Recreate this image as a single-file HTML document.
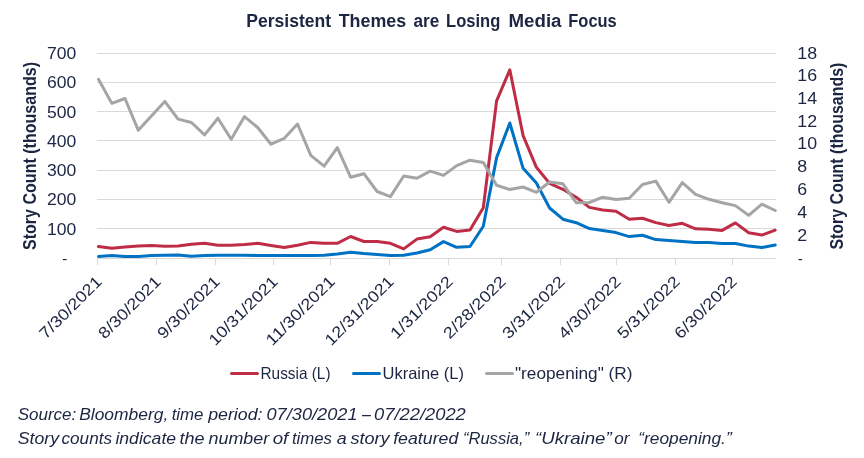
<!DOCTYPE html>
<html><head><meta charset="utf-8"><style>
html,body{margin:0;padding:0;background:#fff;}
svg{display:block;will-change:transform;}
text{font-family:"Liberation Sans",sans-serif;fill:#1c2541;}
</style></head><body>
<svg width="864" height="458" viewBox="0 0 864 458">
<rect width="864" height="458" fill="#fff"/>
<text x="246.3" y="26.7" font-size="17.6" font-weight="bold" textLength="84.8" lengthAdjust="spacingAndGlyphs">Persistent</text>
<text x="338.7" y="26.7" font-size="17.6" font-weight="bold" textLength="67.5" lengthAdjust="spacingAndGlyphs">Themes</text>
<text x="413.6" y="26.7" font-size="17.6" font-weight="bold" textLength="25.7" lengthAdjust="spacingAndGlyphs">are</text>
<text x="446.1" y="26.7" font-size="17.6" font-weight="bold" textLength="54.2" lengthAdjust="spacingAndGlyphs">Losing</text>
<text x="508.5" y="26.7" font-size="17.6" font-weight="bold" textLength="53.0" lengthAdjust="spacingAndGlyphs">Media</text>
<text x="568.3" y="26.7" font-size="17.6" font-weight="bold" textLength="48.4" lengthAdjust="spacingAndGlyphs">Focus</text>
<line x1="97" y1="53.5" x2="776" y2="53.5" stroke="#d9d9d9" stroke-width="1"/>
<line x1="97" y1="82.5" x2="776" y2="82.5" stroke="#d9d9d9" stroke-width="1"/>
<line x1="97" y1="111.5" x2="776" y2="111.5" stroke="#d9d9d9" stroke-width="1"/>
<line x1="97" y1="140.5" x2="776" y2="140.5" stroke="#d9d9d9" stroke-width="1"/>
<line x1="97" y1="170.5" x2="776" y2="170.5" stroke="#d9d9d9" stroke-width="1"/>
<line x1="97" y1="199.5" x2="776" y2="199.5" stroke="#d9d9d9" stroke-width="1"/>
<line x1="97" y1="228.5" x2="776" y2="228.5" stroke="#d9d9d9" stroke-width="1"/>
<line x1="97" y1="258.5" x2="776" y2="258.5" stroke="#d9d9d9" stroke-width="1"/>
<line x1="97.5" y1="258" x2="97.5" y2="265" stroke="#d9d9d9" stroke-width="1"/>
<text transform="translate(98.5,279.0) rotate(-45)" x="0.5" y="5.7" font-size="16" text-anchor="end" textLength="80.7" lengthAdjust="spacingAndGlyphs">7/30/2021</text>
<line x1="156.5" y1="258" x2="156.5" y2="265" stroke="#d9d9d9" stroke-width="1"/>
<text transform="translate(157.5,279.0) rotate(-45)" x="0.5" y="5.7" font-size="16" text-anchor="end" textLength="80.7" lengthAdjust="spacingAndGlyphs">8/30/2021</text>
<line x1="215.5" y1="258" x2="215.5" y2="265" stroke="#d9d9d9" stroke-width="1"/>
<text transform="translate(216.5,279.0) rotate(-45)" x="0.5" y="5.7" font-size="16" text-anchor="end" textLength="80.7" lengthAdjust="spacingAndGlyphs">9/30/2021</text>
<line x1="273.5" y1="258" x2="273.5" y2="265" stroke="#d9d9d9" stroke-width="1"/>
<text transform="translate(274.5,279.0) rotate(-45)" x="0.5" y="5.7" font-size="16" text-anchor="end" textLength="90.1" lengthAdjust="spacingAndGlyphs">10/31/2021</text>
<line x1="330.5" y1="258" x2="330.5" y2="265" stroke="#d9d9d9" stroke-width="1"/>
<text transform="translate(331.5,279.0) rotate(-45)" x="0.5" y="5.7" font-size="16" text-anchor="end" textLength="90.1" lengthAdjust="spacingAndGlyphs">11/30/2021</text>
<line x1="389.5" y1="258" x2="389.5" y2="265" stroke="#d9d9d9" stroke-width="1"/>
<text transform="translate(390.5,279.0) rotate(-45)" x="0.5" y="5.7" font-size="16" text-anchor="end" textLength="90.1" lengthAdjust="spacingAndGlyphs">12/31/2021</text>
<line x1="448.5" y1="258" x2="448.5" y2="265" stroke="#d9d9d9" stroke-width="1"/>
<text transform="translate(449.5,279.0) rotate(-45)" x="0.5" y="5.7" font-size="16" text-anchor="end" textLength="80.7" lengthAdjust="spacingAndGlyphs">1/31/2022</text>
<line x1="501.5" y1="258" x2="501.5" y2="265" stroke="#d9d9d9" stroke-width="1"/>
<text transform="translate(502.5,279.0) rotate(-45)" x="0.5" y="5.7" font-size="16" text-anchor="end" textLength="80.7" lengthAdjust="spacingAndGlyphs">2/28/2022</text>
<line x1="560.5" y1="258" x2="560.5" y2="265" stroke="#d9d9d9" stroke-width="1"/>
<text transform="translate(561.5,279.0) rotate(-45)" x="0.5" y="5.7" font-size="16" text-anchor="end" textLength="80.7" lengthAdjust="spacingAndGlyphs">3/31/2022</text>
<line x1="616.5" y1="258" x2="616.5" y2="265" stroke="#d9d9d9" stroke-width="1"/>
<text transform="translate(617.5,279.0) rotate(-45)" x="0.5" y="5.7" font-size="16" text-anchor="end" textLength="80.7" lengthAdjust="spacingAndGlyphs">4/30/2022</text>
<line x1="675.5" y1="258" x2="675.5" y2="265" stroke="#d9d9d9" stroke-width="1"/>
<text transform="translate(676.5,279.0) rotate(-45)" x="0.5" y="5.7" font-size="16" text-anchor="end" textLength="80.7" lengthAdjust="spacingAndGlyphs">5/31/2022</text>
<line x1="732.5" y1="258" x2="732.5" y2="265" stroke="#d9d9d9" stroke-width="1"/>
<text transform="translate(733.5,279.0) rotate(-45)" x="0.5" y="5.7" font-size="16" text-anchor="end" textLength="80.7" lengthAdjust="spacingAndGlyphs">6/30/2022</text>
<text x="67.5" y="263.5" font-size="15.4" text-anchor="end">-</text>
<text x="76.4" y="234.6" font-size="16.4" text-anchor="end" textLength="29.3" lengthAdjust="spacingAndGlyphs">100</text>
<text x="76.4" y="205.3" font-size="16.4" text-anchor="end" textLength="29.3" lengthAdjust="spacingAndGlyphs">200</text>
<text x="76.4" y="176.0" font-size="16.4" text-anchor="end" textLength="29.3" lengthAdjust="spacingAndGlyphs">300</text>
<text x="76.4" y="146.8" font-size="16.4" text-anchor="end" textLength="29.3" lengthAdjust="spacingAndGlyphs">400</text>
<text x="76.4" y="117.5" font-size="16.4" text-anchor="end" textLength="29.3" lengthAdjust="spacingAndGlyphs">500</text>
<text x="76.4" y="88.2" font-size="16.4" text-anchor="end" textLength="29.3" lengthAdjust="spacingAndGlyphs">600</text>
<text x="76.4" y="58.9" font-size="16.4" text-anchor="end" textLength="29.3" lengthAdjust="spacingAndGlyphs">700</text>
<text x="797.8" y="263.5" font-size="15.4">-</text>
<text x="797.3" y="240.5" font-size="16.4" textLength="9.9" lengthAdjust="spacingAndGlyphs">2</text>
<text x="797.3" y="217.7" font-size="16.4" textLength="9.9" lengthAdjust="spacingAndGlyphs">4</text>
<text x="797.3" y="195.0" font-size="16.4" textLength="9.9" lengthAdjust="spacingAndGlyphs">6</text>
<text x="797.3" y="172.2" font-size="16.4" textLength="9.9" lengthAdjust="spacingAndGlyphs">8</text>
<text x="797.3" y="149.4" font-size="16.4" textLength="19.8" lengthAdjust="spacingAndGlyphs">10</text>
<text x="797.3" y="126.6" font-size="16.4" textLength="19.8" lengthAdjust="spacingAndGlyphs">12</text>
<text x="797.3" y="103.9" font-size="16.4" textLength="19.8" lengthAdjust="spacingAndGlyphs">14</text>
<text x="797.3" y="81.1" font-size="16.4" textLength="19.8" lengthAdjust="spacingAndGlyphs">16</text>
<text x="797.3" y="58.9" font-size="16.4" textLength="19.8" lengthAdjust="spacingAndGlyphs">18</text>
<text transform="translate(35.5,250) rotate(-90)" x="0" y="0" font-size="17.6" font-weight="bold" textLength="188" lengthAdjust="spacingAndGlyphs">Story Count (thousands)</text>
<text transform="translate(842.9,249.6) rotate(-90)" x="0" y="0" font-size="17.6" font-weight="bold" textLength="187" lengthAdjust="spacingAndGlyphs">Story Count (thousands)</text>
<polyline points="98.5,246.5 111.8,248.2 125.0,247.0 138.3,246.0 151.6,245.4 164.8,246.3 178.1,246.1 191.4,244.3 204.6,243.3 217.9,245.2 231.2,245.2 244.5,244.5 257.7,243.3 271.0,245.6 284.3,247.6 297.5,245.2 310.8,242.4 324.1,243.3 337.3,243.3 350.6,236.5 363.9,241.5 377.1,241.5 390.4,243.3 403.7,248.9 416.9,239.1 430.2,236.7 443.5,227.3 456.7,231.4 470.0,230.1 483.3,207.7 496.6,100.9 509.8,69.8 523.1,135.6 536.4,167.3 549.6,183.4 562.9,189.3 576.2,197.2 589.4,207.4 602.7,210.0 616.0,211.3 629.2,219.3 642.5,218.3 655.8,222.6 669.0,225.5 682.3,223.3 695.6,228.8 708.9,229.2 722.1,230.4 735.4,222.9 748.7,232.7 761.9,235.1 775.2,230.2" fill="none" stroke="#be2d45" stroke-width="3" stroke-linejoin="round" stroke-linecap="round"/>
<polyline points="98.5,256.4 111.8,255.4 125.0,256.5 138.3,256.6 151.6,255.5 164.8,255.2 178.1,255.0 191.4,256.3 204.6,255.4 217.9,255.2 231.2,255.2 244.5,255.3 257.7,255.4 271.0,255.4 284.3,255.4 297.5,255.4 310.8,255.4 324.1,255.2 337.3,254.1 350.6,252.2 363.9,253.5 377.1,254.4 390.4,255.4 403.7,255.2 416.9,253.0 430.2,249.8 443.5,241.6 456.7,247.3 470.0,246.5 483.3,226.3 496.6,157.6 509.8,123.0 523.1,168.3 536.4,183.0 549.6,208.0 562.9,219.2 576.2,222.7 589.4,228.6 602.7,230.6 616.0,232.6 629.2,236.6 642.5,235.3 655.8,239.6 669.0,240.6 682.3,241.6 695.6,242.6 708.9,242.6 722.1,243.5 735.4,243.5 748.7,246.1 761.9,247.5 775.2,245.1" fill="none" stroke="#0072c4" stroke-width="3" stroke-linejoin="round" stroke-linecap="round"/>
<polyline points="98.5,79.2 111.8,103.4 125.0,98.5 138.3,130.3 151.6,115.8 164.8,101.4 178.1,119.1 191.4,122.5 204.6,134.9 217.9,118.2 231.2,139.2 244.5,116.6 257.7,127.5 271.0,144.2 284.3,138.3 297.5,124.0 310.8,155.4 324.1,166.2 337.3,147.6 350.6,177.2 363.9,173.7 377.1,191.5 390.4,196.6 403.7,176.0 416.9,178.3 430.2,171.1 443.5,175.4 456.7,165.6 470.0,160.2 483.3,162.6 496.6,185.2 509.8,189.5 523.1,187.0 536.4,192.3 549.6,182.0 562.9,183.8 576.2,202.7 589.4,202.5 602.7,197.2 616.0,199.5 629.2,198.2 642.5,184.5 655.8,181.1 669.0,202.3 682.3,182.6 695.6,194.4 708.9,199.3 722.1,202.7 735.4,205.6 748.7,215.4 761.9,204.2 775.2,210.5" fill="none" stroke="#a5a5a5" stroke-width="3" stroke-linejoin="round" stroke-linecap="round"/>
<line x1="231.5" y1="373.5" x2="257.5" y2="373.5" stroke="#be2d45" stroke-width="3" stroke-linecap="round"/>
<text x="260.5" y="379" font-size="16.5" textLength="70" lengthAdjust="spacingAndGlyphs">Russia (L)</text>
<line x1="353.5" y1="373.5" x2="379.5" y2="373.5" stroke="#0072c4" stroke-width="3" stroke-linecap="round"/>
<text x="382.5" y="379" font-size="16.5" textLength="81.5" lengthAdjust="spacingAndGlyphs">Ukraine (L)</text>
<line x1="486.5" y1="373.5" x2="512.5" y2="373.5" stroke="#a5a5a5" stroke-width="3" stroke-linecap="round"/>
<text x="515" y="379" font-size="16.5" textLength="117.5" lengthAdjust="spacingAndGlyphs">"reopening" (R)</text>
<text x="17.7" y="420" font-size="17" font-style="italic" textLength="58.6" lengthAdjust="spacingAndGlyphs">Source:</text>
<text x="79.2" y="420" font-size="17" font-style="italic" textLength="89.1" lengthAdjust="spacingAndGlyphs">Bloomberg,</text>
<text x="171.7" y="420" font-size="17" font-style="italic" textLength="31.8" lengthAdjust="spacingAndGlyphs">time</text>
<text x="208.2" y="420" font-size="17" font-style="italic" textLength="54.3" lengthAdjust="spacingAndGlyphs">period:</text>
<text x="266.5" y="420" font-size="17" font-style="italic" textLength="91.0" lengthAdjust="spacingAndGlyphs">07/30/2021</text>
<text x="362.1" y="420" font-size="17" font-style="italic" textLength="8.9" lengthAdjust="spacingAndGlyphs">–</text>
<text x="374.0" y="420" font-size="17" font-style="italic" textLength="91.8" lengthAdjust="spacingAndGlyphs">07/22/2022</text>
<text x="17.7" y="444" font-size="17" font-style="italic" textLength="41.3" lengthAdjust="spacingAndGlyphs">Story</text>
<text x="61.5" y="444" font-size="17" font-style="italic" textLength="50.5" lengthAdjust="spacingAndGlyphs">counts</text>
<text x="115.4" y="444" font-size="17" font-style="italic" textLength="60.7" lengthAdjust="spacingAndGlyphs">indicate</text>
<text x="179.4" y="444" font-size="17" font-style="italic" textLength="25.0" lengthAdjust="spacingAndGlyphs">the</text>
<text x="208.6" y="444" font-size="17" font-style="italic" textLength="60.6" lengthAdjust="spacingAndGlyphs">number</text>
<text x="272.7" y="444" font-size="17" font-style="italic" textLength="15.6" lengthAdjust="spacingAndGlyphs">of</text>
<text x="291.9" y="444" font-size="17" font-style="italic" textLength="40.1" lengthAdjust="spacingAndGlyphs">times</text>
<text x="336.7" y="444" font-size="17" font-style="italic" textLength="10.0" lengthAdjust="spacingAndGlyphs">a</text>
<text x="350.4" y="444" font-size="17" font-style="italic" textLength="39.2" lengthAdjust="spacingAndGlyphs">story</text>
<text x="393.2" y="444" font-size="17" font-style="italic" textLength="65.1" lengthAdjust="spacingAndGlyphs">featured</text>
<text x="462.9" y="444" font-size="17" font-style="italic" textLength="66.3" lengthAdjust="spacingAndGlyphs">“Russia,”</text>
<text x="535.0" y="444" font-size="17" font-style="italic" textLength="76.7" lengthAdjust="spacingAndGlyphs">“Ukraine”</text>
<text x="614.2" y="444" font-size="17" font-style="italic" textLength="15.2" lengthAdjust="spacingAndGlyphs">or</text>
<text x="638.2" y="444" font-size="17" font-style="italic" textLength="93.5" lengthAdjust="spacingAndGlyphs">“reopening.”</text>
</svg>
</body></html>
